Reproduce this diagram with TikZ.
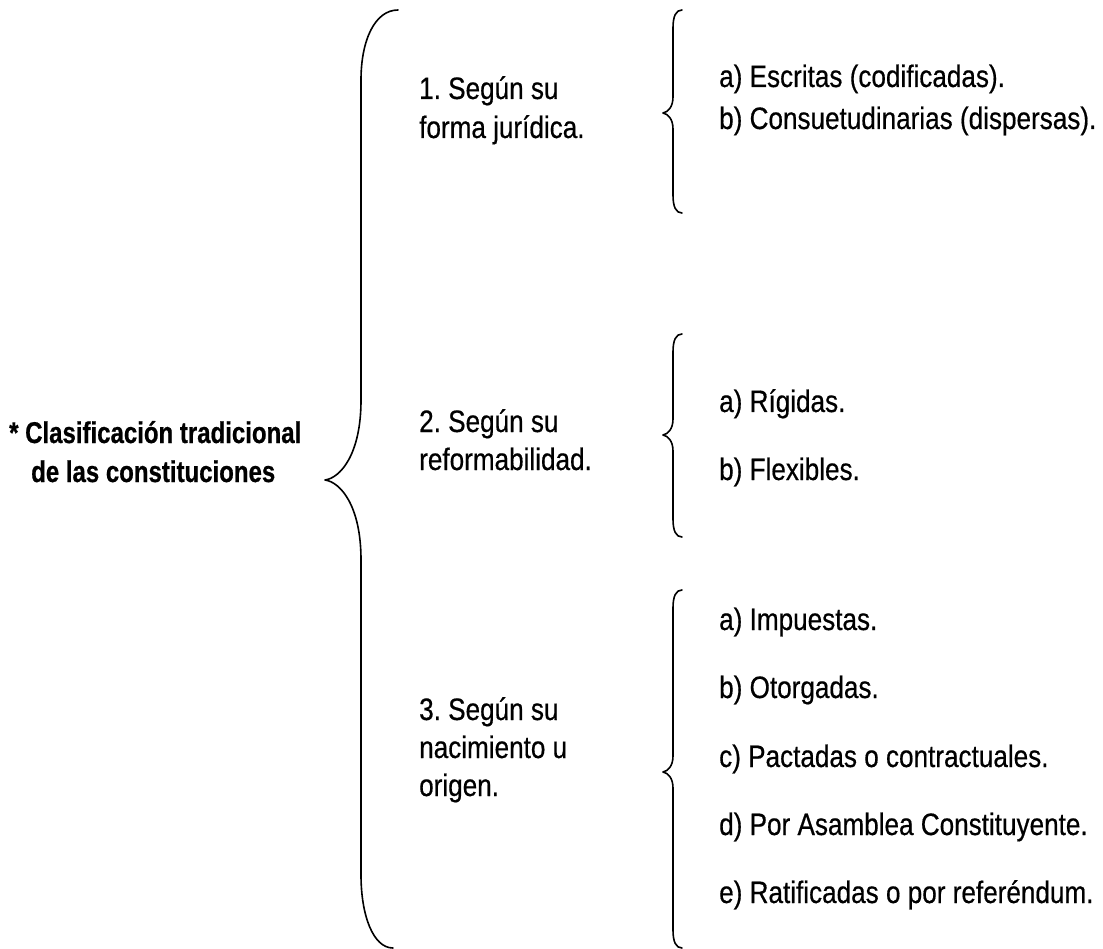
\documentclass[tikz,border=0pt]{standalone}
\usepackage{fontspec}
\newfontfamily\regf[FakeStretch=0.842,FakeBold=0.5]{Liberation Sans}
\newfontfamily\boldf[FakeStretch=0.80,BoldFeatures={FakeBold=0.6}]{Liberation Sans}
\frenchspacing
\tikzset{
  txt/.style={anchor=base west, inner sep=0pt, font=\regf\fontsize{31}{37}\selectfont},
  btxt/.style={anchor=base west, inner sep=0pt, font=\boldf\bfseries\fontsize{30}{36}\selectfont},
  brace/.style={line width=1.6pt, line cap=round, line join=round}
}
\begin{document}
\begin{tikzpicture}[x=1pt,y=-1pt]
\useasboundingbox (0,0) rectangle (1103,949);
% main label
\node[btxt] (main1) at (9,443) {* Clasificación tradicional};
\node[btxt] (main2) at (31,482) {de las constituciones};
% big brace
\coordinate (bigtip) at (325,480);
\draw[brace] (398,10) .. controls (375,10) and (361,40) .. (361,80)
  -- (361,400) .. controls (361,455) and (340,478) .. (bigtip)
  .. controls (340,482) and (361,505) .. (361,560)
  -- (361,875) .. controls (361,915) and (373,948) .. (393,948);
% category labels
\node[txt] (c1a) at (419,99) {1. Según su};
\node[txt] (c1b) at (419,138) {forma jurídica.};
\node[txt] (c2a) at (419,432) {2. Según su};
\node[txt] (c2b) at (419,470) {reformabilidad.};
\node[txt] (c3a) at (419,720) {3. Según su};
\node[txt] (c3b) at (419,758) {nacimiento u};
\node[txt] (c3c) at (419,796) {origen.};
% small braces: top T, tip M, bottom B
\foreach \T/\M/\B/\n in {10/113/213/1, 334/435/537/2, 590/772/948/3}{
  \coordinate (tip\n) at (663,\M);
  \draw[brace] (682,\T) .. controls (676,\T) and (673,\T+6) .. (673,\T+18)
    -- (673,\M-16) .. controls (673,\M-6) and (668,\M-1) .. (tip\n)
    .. controls (668,\M+1) and (673,\M+6) .. (673,\M+16)
    -- (673,\B-18) .. controls (673,\B-6) and (676,\B) .. (682,\B);
}
% items
\node[txt] (i1a) at (719,87) {a) Escritas (codificadas).};
\node[txt] (i1b) at (719,129) {b) Consuetudinarias (dispersas).};
\node[txt] (i2a) at (719,412) {a) Rígidas.};
\node[txt] (i2b) at (719,480) {b) Flexibles.};
\node[txt] (i3a) at (719,630) {a) Impuestas.};
\node[txt] (i3b) at (719,698) {b) Otorgadas.};
\node[txt] (i3c) at (719,767) {c) Pactadas o contractuales.};
\node[txt] (i3d) at (719,835) {d) Por Asamblea Constituyente.};
\node[txt] (i3e) at (719,903) {e) Ratificadas o por referéndum.};
\end{tikzpicture}
\end{document}
